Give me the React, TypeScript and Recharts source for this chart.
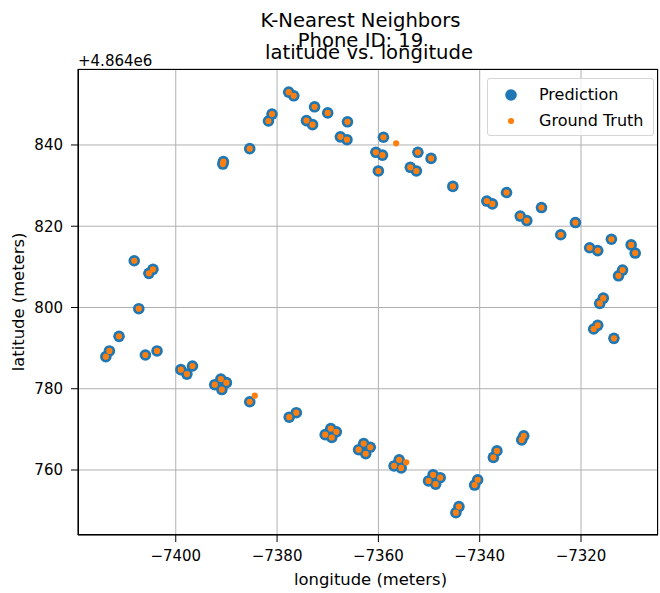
import React from 'react';
import { ScatterChart, Scatter, XAxis, YAxis, CartesianGrid } from 'recharts';

// longitude / latitude in meters (latitude shown relative to +4.864e6)
const predLon = [
  -7381.0, -7381.7, -7385.4, -7390.6, -7390.7, -7377.7, -7376.7, -7372.6, -7370.0, -7374.2,
  -7373.0, -7366.1, -7367.5, -7366.2, -7359.0, -7360.5, -7359.2, -7352.2, -7349.6, -7353.7,
  -7352.5, -7360.0, -7345.3, -7334.7, -7338.6, -7337.5, -7327.8, -7332.0, -7330.7, -7321.1,
  -7324.0, -7318.3, -7316.7, -7314.0, -7310.1, -7309.3, -7311.8, -7312.6, -7315.6, -7316.3,
  -7316.7, -7317.5, -7313.5, -7408.2, -7404.5, -7405.3, -7407.3, -7411.2, -7413.1, -7413.8,
  -7406.0, -7403.7, -7399.0, -7397.8, -7396.7, -7392.3, -7391.1, -7390.0, -7390.9, -7385.4,
  -7377.6, -7376.2, -7370.5, -7369.4, -7368.3, -7369.2, -7363.9, -7362.9, -7361.6, -7362.5,
  -7356.9, -7355.9, -7355.5, -7350.1, -7349.2, -7347.8, -7348.7, -7344.7, -7344.1, -7341.0,
  -7340.4, -7337.3, -7336.6, -7331.7, -7331.3,
];
const predLat = [
  847.6, 845.9, 839.1, 835.9, 835.3, 853.0, 852.1, 849.4, 847.9, 846.0,
  845.0, 845.7, 842.0, 841.3, 841.9, 838.2, 837.5, 838.2, 836.7, 834.5,
  833.6, 833.6, 829.8, 828.3, 826.2, 825.5, 824.6, 822.5, 821.4, 820.9,
  817.9, 814.7, 814.0, 816.8, 815.4, 813.4, 809.2, 807.8, 802.3, 801.0,
  795.6, 794.7, 792.4, 811.5, 809.4, 808.4, 799.7, 792.9, 789.3, 787.9,
  788.3, 789.3, 784.7, 783.6, 785.6, 781.0, 782.4, 781.5, 779.8, 776.8,
  773.0, 774.1, 768.7, 770.2, 769.4, 768.0, 765.0, 766.5, 765.6, 764.0,
  761.0, 762.5, 760.5, 757.3, 758.8, 758.1, 756.5, 749.5, 751.0, 756.3,
  757.6, 763.1, 764.7, 767.4, 768.4,
];
const truthLon = [
  -7381.0, -7381.7, -7385.4, -7390.6, -7390.7, -7377.7, -7376.7, -7372.6, -7370.0, -7374.2,
  -7373.0, -7366.1, -7367.5, -7366.2, -7359.0, -7360.5, -7359.2, -7352.2, -7349.6, -7353.7,
  -7352.5, -7360.0, -7345.3, -7334.7, -7338.6, -7337.5, -7327.8, -7332.0, -7330.7, -7321.1,
  -7324.0, -7318.3, -7316.7, -7314.0, -7310.1, -7309.3, -7311.8, -7312.6, -7315.6, -7316.3,
  -7316.7, -7317.5, -7313.5, -7408.2, -7404.5, -7405.3, -7407.3, -7411.2, -7413.1, -7413.8,
  -7406.0, -7403.7, -7399.0, -7397.8, -7396.7, -7392.3, -7391.1, -7390.0, -7390.9, -7385.4,
  -7377.6, -7376.2, -7370.5, -7369.4, -7368.3, -7369.2, -7363.9, -7362.9, -7361.6, -7362.5,
  -7356.9, -7355.9, -7355.5, -7350.1, -7349.2, -7347.8, -7348.7, -7344.7, -7344.1, -7341.0,
  -7340.4, -7337.3, -7336.6, -7331.7, -7331.3, -7356.5, -7384.4, -7354.5,
];
const truthLat = [
  847.6, 845.9, 839.1, 835.9, 835.3, 853.0, 852.1, 849.4, 847.9, 846.0,
  845.0, 845.7, 842.0, 841.3, 841.9, 838.2, 837.5, 838.2, 836.7, 834.5,
  833.6, 833.6, 829.8, 828.3, 826.2, 825.5, 824.6, 822.5, 821.4, 820.9,
  817.9, 814.7, 814.0, 816.8, 815.4, 813.4, 809.2, 807.8, 802.3, 801.0,
  795.6, 794.7, 792.4, 811.5, 809.4, 808.4, 799.7, 792.9, 789.3, 787.9,
  788.3, 789.3, 784.7, 783.6, 785.6, 781.0, 782.4, 781.5, 779.8, 776.8,
  773.0, 774.1, 768.7, 770.2, 769.4, 768.0, 765.0, 766.5, 765.6, 764.0,
  761.0, 762.5, 760.5, 757.3, 758.8, 758.1, 756.5, 749.5, 751.0, 756.3,
  757.6, 763.1, 764.7, 767.4, 768.4, 840.4, 778.3, 761.9,
];
const xTicks = [-7400, -7380, -7360, -7340, -7320];
const yTicks = [760, 780, 800, 820, 840];

const BLUE = '#1f77b4';
const ORANGE = '#ff7f0e';
const FONT = '"DejaVu Sans", sans-serif';

const predData = predLon.map((lon, i) => ({ lon, lat: predLat[i] }));
const truthData = truthLon.map((lon, i) => ({ lon, lat: truthLat[i] }));

const minus = (v: number) => String(v).replace('-', '\u2212');

const BigDot = (props: any) => <circle cx={props.cx} cy={props.cy} r={5.8} fill={BLUE} />;
const SmallDot = (props: any) => <circle cx={props.cx} cy={props.cy} r={3.1} fill={ORANGE} />;

const LegendBox = () => (
  <div
    style={{
      position: 'absolute',
      left: 487,
      top: 78,
      width: 167,
      height: 58,
      boxSizing: 'border-box',
      border: '1px solid #d5d5d5',
      borderRadius: 3,
      background: 'rgba(255,255,255,0.8)',
      fontFamily: FONT,
      fontSize: 16,
      color: '#000',
    }}
  >
    <svg width={20} height={54} style={{ position: 'absolute', left: 13, top: 0 }}>
      <circle cx={10} cy={16} r={5.8} fill={BLUE} />
      <circle cx={10} cy={42} r={3.1} fill={ORANGE} />
    </svg>
    <div style={{ position: 'absolute', left: 51, top: 6 }}>Prediction</div>
    <div style={{ position: 'absolute', left: 51, top: 32 }}>Ground Truth</div>
  </div>
);

export default function App() {
  return (
    <div style={{ position: 'absolute', left: 0, top: 0, width: 660, height: 593, background: '#fff' }}>
      <ScatterChart width={660} height={593} margin={{ top: 69, right: 2, bottom: 0, left: 0 }}>
        <CartesianGrid stroke="#b0b0b0" strokeWidth={1} />
        <XAxis
          type="number"
          dataKey="lon"
          domain={[-7419.3, -7304.8]}
          ticks={xTicks}
          tickFormatter={minus}
          allowDataOverflow
          height={58}
          tickSize={7}
          tickMargin={8}
          stroke="#000"
          tick={{ fill: '#000', fontSize: 15, fontFamily: FONT }}
        />
        <YAxis
          type="number"
          dataKey="lat"
          domain={[744.0, 858.7]}
          ticks={yTicks}
          allowDataOverflow
          width={78}
          tickSize={7}
          tickMargin={8}
          stroke="#000"
          tick={{ fill: '#000', fontSize: 15, fontFamily: FONT }}
        />
        <Scatter name="Prediction" data={predData} fill={BLUE} shape={BigDot} isAnimationActive={false} />
        <Scatter name="Ground Truth" data={truthData} fill={ORANGE} shape={SmallDot} isAnimationActive={false} />
        <text x={360.5} y={26.5} textAnchor="middle" fontSize={19.6} fontFamily={FONT} fill="#000">
          K-Nearest Neighbors
        </text>
        <text x={360.5} y={46.5} textAnchor="middle" fontSize={19.6} fontFamily={FONT} fill="#000">
          Phone ID: 19
        </text>
        <text x={369} y={58.5} textAnchor="middle" fontSize={19.6} fontFamily={FONT} fill="#000">
          latitude vs. longitude
        </text>
        <text x={78} y={66} fontSize={15} fontFamily={FONT} fill="#000">
          +4.864e6
        </text>
        <text x={370.5} y={585} textAnchor="middle" fontSize={16.4} fontFamily={FONT} fill="#000">
          longitude (meters)
        </text>
        <text
          x={24}
          y={302}
          textAnchor="middle"
          fontSize={16.4}
          fontFamily={FONT}
          fill="#000"
          transform="rotate(-90 24 302)"
        >
          latitude (meters)
        </text>
        <rect x={78.5} y={69.5} width={579} height={465} fill="none" stroke="#000" strokeWidth={1} />
      </ScatterChart>
      <LegendBox />
    </div>
  );
}
